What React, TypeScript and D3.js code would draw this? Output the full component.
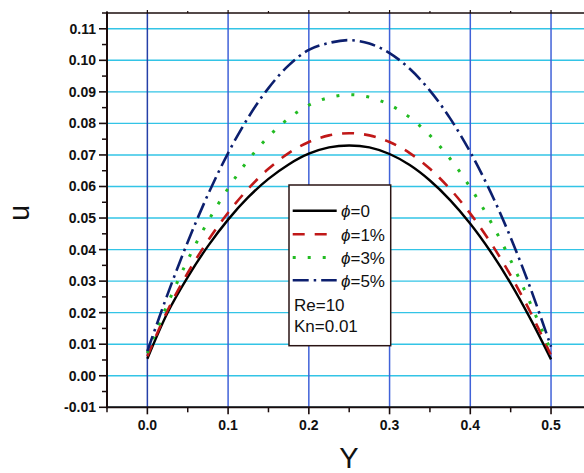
import React from "react";
import * as d3 from "d3";

const yPos = [0, 0.025, 0.05, 0.075, 0.1, 0.125, 0.15, 0.175, 0.2, 0.225, 0.25, 0.275, 0.3, 0.325, 0.35, 0.375, 0.4, 0.425, 0.45, 0.475, 0.5];
const phi0 = [0.0054, 0.0200, 0.0313, 0.0411, 0.0495, 0.0566, 0.0624, 0.0670, 0.0704, 0.0724, 0.0730, 0.0724, 0.0703, 0.0668, 0.0619, 0.0557, 0.0482, 0.0394, 0.0293, 0.0178, 0.0052];
const phi1 = [0.0062, 0.0207, 0.0326, 0.0428, 0.0517, 0.0593, 0.0656, 0.0706, 0.0741, 0.0762, 0.0769, 0.0762, 0.0741, 0.0706, 0.0656, 0.0592, 0.0514, 0.0423, 0.0318, 0.0199, 0.0065];
const phi3 = [0.0072, 0.0227, 0.0367, 0.0489, 0.0594, 0.0684, 0.0758, 0.0816, 0.0858, 0.0882, 0.0891, 0.0883, 0.0859, 0.0819, 0.0762, 0.0688, 0.0597, 0.0490, 0.0366, 0.0226, 0.0078];
const phi5 = [0.0078, 0.0258, 0.0424, 0.0574, 0.0706, 0.0819, 0.0912, 0.0984, 0.1033, 0.1055, 0.1064, 0.1053, 0.1023, 0.0973, 0.0904, 0.0816, 0.0709, 0.0583, 0.0438, 0.0274, 0.0092];

const seriesLabels = ["=0", "=1%", "=3%", "=5%"];
const xTicks = [0, 0.1, 0.2, 0.3, 0.4, 0.5];
const xMinorTicks = [-0.05, 0.05, 0.15, 0.25, 0.35, 0.45];
const yTicks = [-0.01, 0, 0.01, 0.02, 0.03, 0.04, 0.05, 0.06, 0.07, 0.08, 0.09, 0.1, 0.11];
const yMinorTicks = [-0.005, 0.005, 0.015, 0.025, 0.035, 0.045, 0.055, 0.065, 0.075, 0.085, 0.095, 0.105, 0.115];
const legendNotes = ["Re=10", "Kn=0.01"];

const W = 584, H = 473;
const L = 107, R = 591.4, T = 13, B = 407.3;
const FONT = "'Liberation Sans', Arial, sans-serif";

export default function App() {
  const x = d3.scaleLinear().domain([-0.05, 0.55]).range([L, R]);
  const y = d3.scaleLinear().domain([-0.01, 0.115]).range([B, T]);
  const line = d3
    .line<number>()
    .x((_, i) => x(yPos[i]))
    .y((d) => y(d))
    .curve(d3.curveCatmullRom.alpha(0.5));

  const series = [
    { data: phi0, color: "#000000", dash: "none", width: 2.4 },
    { data: phi1, color: "#c01818", dash: "12 10", width: 2.6 },
    { data: phi3, color: "#22bb22", dash: "3 12", width: 3 },
    { data: phi5, color: "#0c1f6e", dash: "16 5 2.5 5", width: 2.6 },
  ];

  const fmtY = (v: number) => (Math.abs(v) < 1e-9 ? "0.00" : d3.format(".2f")(v).replace("\u2212", "-"));
  const fmtX = d3.format(".1f");

  const legX0 = 292.7, legX1 = 336.7, legTextX = 341;
  const legBase = [217.3, 240.7, 264, 286.7];

  return (
    <svg width={W} height={H} style={{ position: "absolute", left: 0, top: 0, background: "#fff" }}>
      <rect x={0} y={0} width={W} height={H} fill="#fff" />
      {yTicks.map((t) => (
        <line key={"hg" + t} x1={L} x2={W} y1={y(t)} y2={y(t)} stroke="#33c4e6" strokeWidth={1.4} />
      ))}
      {xTicks.map((t) => (
        <line key={"vg" + t} x1={x(t)} x2={x(t)} y1={T} y2={B} stroke={t === 0 ? "#2540a8" : "#4062d8"} strokeWidth={1.5} />
      ))}
      <line x1={L} x2={L} y1={T - 1} y2={B + 1} stroke="#1a0c0c" strokeWidth={2} />
      <line x1={L - 1} x2={W} y1={B} y2={B} stroke="#1a0c0c" strokeWidth={2} />
      <line x1={L - 1} x2={W} y1={T} y2={T} stroke="#1a0c0c" strokeWidth={1.4} />
      {yTicks.map((t) => (
        <g key={"yt" + t}>
          <line x1={L - 8} x2={L} y1={y(t)} y2={y(t)} stroke="#1a0c0c" strokeWidth={1.6} />
          <text x={96} y={y(t) + 5} textAnchor="end" fontFamily={FONT} fontWeight="bold" fontSize={14} fill="#111">
            {fmtY(t)}
          </text>
        </g>
      ))}
      {yMinorTicks.map((t) => (
        <line key={"ym" + t} x1={L - 5} x2={L} y1={y(t)} y2={y(t)} stroke="#1a0c0c" strokeWidth={1.5} />
      ))}
      {xTicks.map((t) => (
        <g key={"xt" + t}>
          <line x1={x(t)} x2={x(t)} y1={B} y2={B + 7} stroke="#1a0c0c" strokeWidth={1.6} />
          <line x1={x(t)} x2={x(t)} y1={T} y2={T - 3} stroke="#1a0c0c" strokeWidth={1.2} />
          <text x={x(t)} y={430} textAnchor="middle" fontFamily={FONT} fontWeight="bold" fontSize={14} fill="#111">
            {fmtX(t)}
          </text>
        </g>
      ))}
      {xMinorTicks.map((t) => (
        <g key={"xm" + t}>
          <line x1={x(t)} x2={x(t)} y1={B} y2={B + 5} stroke="#1a0c0c" strokeWidth={1.5} />
          <line x1={x(t)} x2={x(t)} y1={T} y2={T - 2} stroke="#1a0c0c" strokeWidth={1.2} />
        </g>
      ))}
      <text x={W / 2 + 57} y={468} textAnchor="middle" fontFamily={FONT} fontSize={29} fill="#111">
        Y
      </text>
      <text transform="translate(29,213) rotate(-90)" textAnchor="middle" fontFamily={FONT} fontSize={29} fill="#111">
        u
      </text>
      {series.map((s, i) => (
        <path key={"s" + i} d={line(s.data) || ""} fill="none" stroke={s.color} strokeWidth={s.width} strokeDasharray={s.dash} />
      ))}
      <rect x={289} y={185} width={101.7} height={160.7} fill="#fff" stroke="#2a1414" strokeWidth={1.5} />
      {series.map((s, i) => (
        <g key={"lg" + i}>
          <line x1={legX0} x2={legX1} y1={legBase[i] - 6.5} y2={legBase[i] - 6.5} stroke={s.color} strokeWidth={s.width} strokeDasharray={s.dash} />
          <text x={legTextX} y={legBase[i]} fontFamily={FONT} fontSize={17} fill="#111">
            <tspan fontStyle="italic">ϕ</tspan>
            {seriesLabels[i]}
          </text>
        </g>
      ))}
      {legendNotes.map((n, i) => (
        <text key={n} x={294} y={310.7 + i * 21} fontFamily={FONT} fontSize={17} fill="#111">
          {n}
        </text>
      ))}
    </svg>
  );
}
